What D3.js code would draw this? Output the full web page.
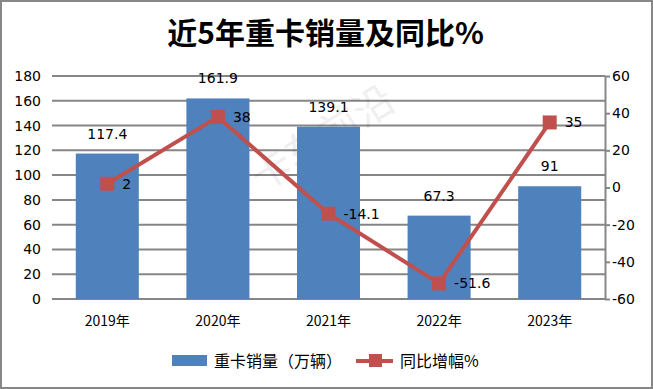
<!DOCTYPE html>
<html>
<head>
<meta charset="utf-8">
<script src="https://cdn.jsdelivr.net/npm/d3@7"></script>
<style>
  body { margin: 0; background: #fff; }
  svg { display: block; }
</style>
</head>
<body>
<div id="graphicContainer"></div>
<script>
var years = ["2019年", "2020年", "2021年", "2022年", "2023年"];
var sales = [117.4, 161.9, 139.1, 67.3, 91];
var growth = [2, 38, -14.1, -51.6, 35];
var leftTicks = [0, 20, 40, 60, 80, 100, 120, 140, 160, 180];
var rightTicks = [-60, -40, -20, 0, 20, 40, 60];

var width = 653, height = 389;
var margin = {top: 76, right: 48, bottom: 90, left: 52};

var svg = d3.select("#graphicContainer").append("svg")
    .attr("width", width)
    .attr("height", height);

// frame
svg.append("rect")
    .attr("x", 1).attr("y", 1)
    .attr("width", width - 2).attr("height", height - 2)
    .attr("fill", "#fff")
    .attr("stroke", "#878787")
    .attr("stroke-width", 2);

svg.append("text")
    .attr("x", width / 2 - 1)
    .attr("y", 44)
    .attr("text-anchor", "middle")
    .style("font-family", "'Noto Sans CJK SC', sans-serif")
    .style("font-weight", "bold")
    .style("font-size", "30px")
    .attr("fill", "#000")
    .text("近5年重卡销量及同比%");

var x = d3.scaleBand()
    .domain(years)
    .range([margin.left, width - margin.right])
    .paddingInner(0.43)
    .paddingOuter(0.215);

var y = d3.scaleLinear().domain([0, 180]).range([height - margin.bottom, margin.top]);
var y2 = d3.scaleLinear().domain([-60, 60]).range([height - margin.bottom, margin.top]);

var numFont = "'DejaVu Sans', sans-serif";

// gridlines
svg.append("g")
    .selectAll("line")
    .data(leftTicks)
    .enter()
    .append("line")
    .attr("x1", margin.left)
    .attr("x2", width - margin.right)
    .attr("y1", d => y(d))
    .attr("y2", d => y(d))
    .attr("stroke", "#868686")
    .attr("stroke-width", 2);

// watermark
svg.append("text")
    .attr("transform", "translate(330,150) rotate(-32)")
    .attr("text-anchor", "middle")
    .style("font-family", "'Noto Sans CJK SC', sans-serif")
    .style("font-size", "40px")
    .attr("fill", "#000")
    .attr("opacity", 0.06)
    .text("卡车前沿");

// bars
svg.append("g")
    .selectAll("rect")
    .data(sales)
    .enter()
    .append("rect")
    .attr("x", (d, i) => x(years[i]))
    .attr("y", d => y(d))
    .attr("width", x.bandwidth())
    .attr("height", d => y(0) - y(d))
    .attr("fill", "#4f81bd");

// bar labels
svg.append("g")
    .selectAll("text")
    .data(sales)
    .enter()
    .append("text")
    .attr("x", (d, i) => x(years[i]) + x.bandwidth() / 2)
    .attr("y", d => y(d) - 15)
    .attr("text-anchor", "middle")
    .style("font-family", numFont)
    .style("font-size", "14px")
    .attr("fill", "#000")
    .text(d => d);

// left axis
var leftAxis = svg.append("g")
    .attr("transform", "translate(" + margin.left + ",0)")
    .call(d3.axisLeft(y).tickValues(leftTicks).tickSize(0).tickPadding(11));
leftAxis.select(".domain").remove();
leftAxis.selectAll("text")
    .style("font-family", numFont)
    .style("font-size", "14px")
    .attr("fill", "#000");

// right axis
var rightAxis = svg.append("g")
    .attr("transform", "translate(" + (width - margin.right) + ",0)")
    .call(d3.axisRight(y2).tickValues(rightTicks).tickFormat(d => String(d))
        .tickSizeInner(5).tickSizeOuter(0).tickPadding(2));
rightAxis.select(".domain").attr("stroke", "#868686").attr("stroke-width", 2);
rightAxis.selectAll(".tick line").attr("stroke", "#868686").attr("stroke-width", 2);
rightAxis.selectAll("text")
    .style("font-family", numFont)
    .style("font-size", "14px")
    .attr("fill", "#000");

// x axis labels
svg.append("g")
    .selectAll("text")
    .data(years)
    .enter()
    .append("text")
    .attr("x", d => x(d) + x.bandwidth() / 2)
    .attr("y", height - margin.bottom + 27)
    .attr("text-anchor", "middle")
    .style("font-family", "'Noto Sans CJK SC', sans-serif")
    .style("font-size", "14px")
    .attr("fill", "#000")
    .text(d => d);

// growth line
var line = d3.line()
    .x((d, i) => x(years[i]) + x.bandwidth() / 2)
    .y(d => y2(d));

svg.append("path")
    .datum(growth)
    .attr("d", line)
    .attr("fill", "none")
    .attr("stroke", "#c0504d")
    .attr("stroke-width", 4);

svg.append("g")
    .selectAll("rect")
    .data(growth)
    .enter()
    .append("rect")
    .attr("x", (d, i) => x(years[i]) + x.bandwidth() / 2 - 7)
    .attr("y", d => y2(d) - 7)
    .attr("width", 14)
    .attr("height", 14)
    .attr("fill", "#c0504d");

svg.append("g")
    .selectAll("text")
    .data(growth)
    .enter()
    .append("text")
    .attr("x", (d, i) => x(years[i]) + x.bandwidth() / 2 + 15)
    .attr("y", d => y2(d) + 5)
    .style("font-family", numFont)
    .style("font-size", "14px")
    .attr("fill", "#000")
    .text(d => d);

// legend
var legend = svg.append("g");
legend.append("rect")
    .attr("x", 172).attr("y", 355)
    .attr("width", 35).attr("height", 11)
    .attr("fill", "#4f81bd");
legend.append("text")
    .attr("x", 214).attr("y", 367)
    .style("font-family", "'Noto Sans CJK SC', sans-serif")
    .style("font-size", "16px")
    .attr("fill", "#000")
    .text("重卡销量（万辆）");
legend.append("line")
    .attr("x1", 356).attr("x2", 393)
    .attr("y1", 361).attr("y2", 361)
    .attr("stroke", "#c0504d")
    .attr("stroke-width", 4);
legend.append("rect")
    .attr("x", 369).attr("y", 354)
    .attr("width", 13).attr("height", 13)
    .attr("fill", "#c0504d");
legend.append("text")
    .attr("x", 400).attr("y", 367)
    .style("font-family", "'Noto Sans CJK SC', sans-serif")
    .style("font-size", "16px")
    .attr("fill", "#000")
    .text("同比增幅%");
</script>
</body>
</html>
